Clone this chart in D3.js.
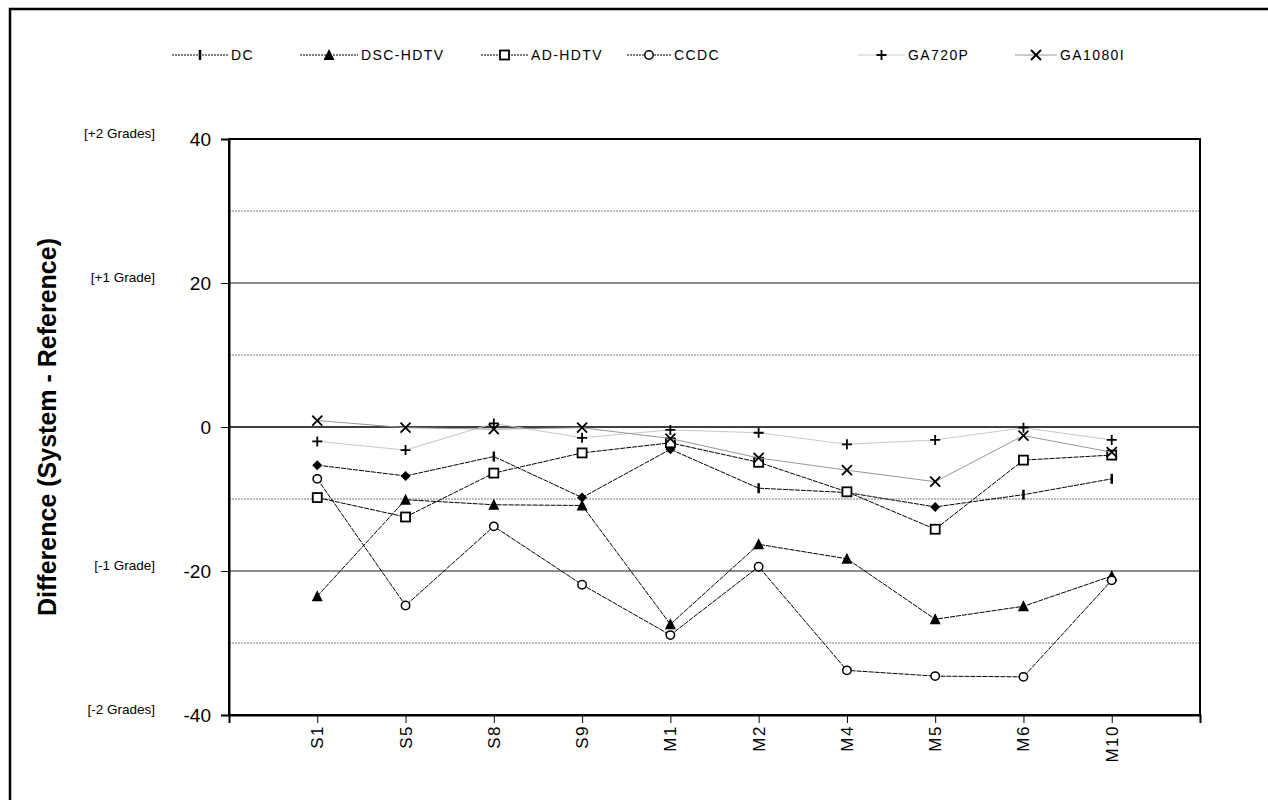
<!DOCTYPE html>
<html>
<head>
<meta charset="utf-8">
<script src="https://cdn.jsdelivr.net/npm/d3@7"></script>
<style>
  body { margin: 0; background: #fff; }
  svg { display: block; font-family: Arial, 'Liberation Sans', sans-serif; }
</style>
</head>
<body>
<div id="chart"></div>
<script>
// categories and series
const categories = ['S1', 'S5', 'S8', 'S9', 'M1', 'M2', 'M4', 'M5', 'M6', 'M10']
const dc = [-5.3, -6.8, -4.1, -9.8, -3.1, -8.5, -9.1, -11.1, -9.4, -7.2]
const dcMarkers = ['diamond', 'diamond', 'bar', 'diamond', 'diamond', 'bar', 'diamond', 'diamond', 'bar', 'bar']
const dscHdtv = [-23.5, -10.1, -10.8, -10.9, -27.4, -16.3, -18.3, -26.7, -24.9, -20.7]
const adHdtv = [-9.8, -12.5, -6.4, -3.6, -2.2, -4.9, -9.0, -14.2, -4.6, -3.9]
const ccdc = [-7.2, -24.8, -13.8, -21.9, -28.9, -19.4, -33.8, -34.6, -34.7, -21.3]
const ga720p = [-2.0, -3.2, 0.5, -1.5, -0.4, -0.8, -2.4, -1.8, -0.1, -1.8]
const ga1080i = [0.9, -0.1, -0.3, -0.1, -1.6, -4.3, -6.0, -7.6, -1.2, -3.5]
const yTicks = [-40, -20, 0, 20, 40]
const gradeLabels = [[40, '[+2 Grades]'], [20, '[+1 Grade]'], [-20, '[-1 Grade]'], [-40, '[-2 Grades]']]

const series = [
    { name: 'DC', values: dc, marker: 'bar', color: '#000', dash: '5,1' },
    { name: 'DSC-HDTV', values: dscHdtv, marker: 'triangle', color: '#000', dash: '5,1' },
    { name: 'AD-HDTV', values: adHdtv, marker: 'square', color: '#000', dash: '5,1' },
    { name: 'CCDC', values: ccdc, marker: 'circle', color: '#000', dash: '5,1' },
    { name: 'GA720P', values: ga720p, marker: 'plus', color: '#c8c8c8', dash: null },
    { name: 'GA1080I', values: ga1080i, marker: 'cross', color: '#969696', dash: null }
]

const width = 1268
const height = 800
const plotLeft = 229, plotRight = 1200, plotTop = 139, plotBottom = 715

const svg = d3.select('#chart').append('svg')
    .attr('width', width)
    .attr('height', height)

// outer frame (cropped at right / bottom)
svg.append('rect')
    .attr('x', 10).attr('y', 9)
    .attr('width', 1400).attr('height', 1000)
    .attr('fill', 'none')
    .attr('stroke', '#000')
    .attr('stroke-width', 2.5)

const x = d3.scaleLinear().domain([0, categories.length + 1]).range([plotLeft, plotRight])
const y = d3.scaleLinear().domain([-40, 40]).range([plotBottom, plotTop])

// grid lines
const grid = svg.append('g')
d3.range(-30, 40, 10).forEach(v => {
    const major = v % 20 === 0
    grid.append('line')
        .attr('x1', plotLeft).attr('x2', plotRight)
        .attr('y1', y(v)).attr('y2', y(v))
        .attr('stroke', v === 0 ? '#000' : (major ? '#666' : '#777'))
        .attr('stroke-width', major ? 1.5 : 1)
        .attr('stroke-dasharray', major ? null : '2,1')
})

// plot border
svg.append('rect')
    .attr('x', plotLeft).attr('y', plotTop)
    .attr('width', plotRight - plotLeft).attr('height', plotBottom - plotTop)
    .attr('fill', 'none')
    .attr('stroke', '#000')
    .attr('stroke-width', 2)

// y axis
const yAxis = svg.append('g')
    .attr('transform', `translate(${plotLeft},0)`)
    .call(d3.axisLeft(y).tickValues(yTicks).tickSize(8).tickPadding(10).tickFormat(d => String(d)))
yAxis.select('.domain').attr('stroke-width', 2)
yAxis.selectAll('text').attr('font-size', 19).attr('fill', '#000').attr('font-family', 'Arial, Liberation Sans, sans-serif')

svg.append('g').selectAll('text').data(gradeLabels).enter()
    .append('text')
    .attr('x', 155)
    .attr('y', d => y(d[0]) - 1)
    .attr('text-anchor', 'end')
    .attr('font-size', 13.5)
    .text(d => d[1])

svg.append('text')
    .attr('transform', `translate(56,${y(0)}) rotate(-90)`)
    .attr('text-anchor', 'middle')
    .attr('font-size', 25)
    .attr('font-weight', 'bold')
    .text('Difference (System - Reference)')

// x axis
const xAxis = svg.append('g')
    .attr('transform', `translate(0,${plotBottom})`)
    .call(d3.axisBottom(x).tickValues(d3.range(0, categories.length + 2)).tickSize(8).tickFormat(''))
xAxis.select('.domain').attr('stroke-width', 2)

svg.append('g').selectAll('text').data(categories).enter()
    .append('text')
    .attr('transform', (d, i) => `translate(${x(i + 1) + 6},725) rotate(-90)`)
    .attr('text-anchor', 'end')
    .attr('font-size', 17)
    .attr('letter-spacing', 1.5)
    .text(d => d)

// markers
function drawMarker (g, type, cx, cy) {
    const s = 5
    if (type === 'bar') {
        g.append('line').attr('x1', cx).attr('x2', cx).attr('y1', cy - s).attr('y2', cy + s)
            .attr('stroke', '#000').attr('stroke-width', 2.5)
    } else if (type === 'diamond') {
        g.append('path').attr('d', `M${cx},${cy - s}L${cx + s},${cy}L${cx},${cy + s}L${cx - s},${cy}Z`)
            .attr('fill', '#000')
    } else if (type === 'triangle') {
        g.append('path').attr('d', `M${cx},${cy - 6}L${cx + 5.5},${cy + 5}L${cx - 5.5},${cy + 5}Z`)
            .attr('fill', '#000')
    } else if (type === 'square') {
        g.append('rect').attr('x', cx - 4.5).attr('y', cy - 4.5).attr('width', 9).attr('height', 9)
            .attr('fill', '#fff').attr('stroke', '#000').attr('stroke-width', 1.8)
    } else if (type === 'circle') {
        g.append('circle').attr('cx', cx).attr('cy', cy).attr('r', 4.2)
            .attr('fill', '#fff').attr('stroke', '#000').attr('stroke-width', 1.5)
    } else if (type === 'plus') {
        g.append('path').attr('d', `M${cx - s},${cy}H${cx + s}M${cx},${cy - s}V${cy + s}`)
            .attr('stroke', '#000').attr('stroke-width', 1.8)
    } else if (type === 'cross') {
        g.append('path').attr('d', `M${cx - s},${cy - s}L${cx + s},${cy + s}M${cx + s},${cy - s}L${cx - s},${cy + s}`)
            .attr('stroke', '#000').attr('stroke-width', 1.8)
    }
}

const line = d3.line()
    .x((d, i) => x(i + 1))
    .y(d => y(d))

series.forEach(s => {
    const g = svg.append('g')
    g.append('path')
        .datum(s.values)
        .attr('d', line)
        .attr('fill', 'none')
        .attr('stroke', s.color)
        .attr('stroke-width', 1)
        .attr('stroke-dasharray', s.dash)
    s.values.forEach((v, i) => {
        const type = s.name === 'DC' ? dcMarkers[i] : s.marker
        drawMarker(g, type, x(i + 1), y(v))
    })
})

// legend
const legendX = [172, 300, 481, 627, 858, 1015]
const legendLen = [56, 58, 47, 44, 47, 42]
const legend = svg.append('g')
series.forEach((s, i) => {
    const lx = legendX[i]
    const ly = 55
    legend.append('line')
        .attr('x1', lx).attr('x2', lx + legendLen[i])
        .attr('y1', ly).attr('y2', ly)
        .attr('stroke', s.color)
        .attr('stroke-width', 1)
        .attr('stroke-dasharray', s.dash ? '2,1' : null)
    drawMarker(legend, s.marker, lx + legendLen[i] / 2, ly)
    legend.append('text')
        .attr('x', lx + legendLen[i] + 3)
        .attr('y', ly + 5)
        .attr('font-size', 14)
        .attr('letter-spacing', 1.4)
        .text(s.name)
})
</script>
</body>
</html>
